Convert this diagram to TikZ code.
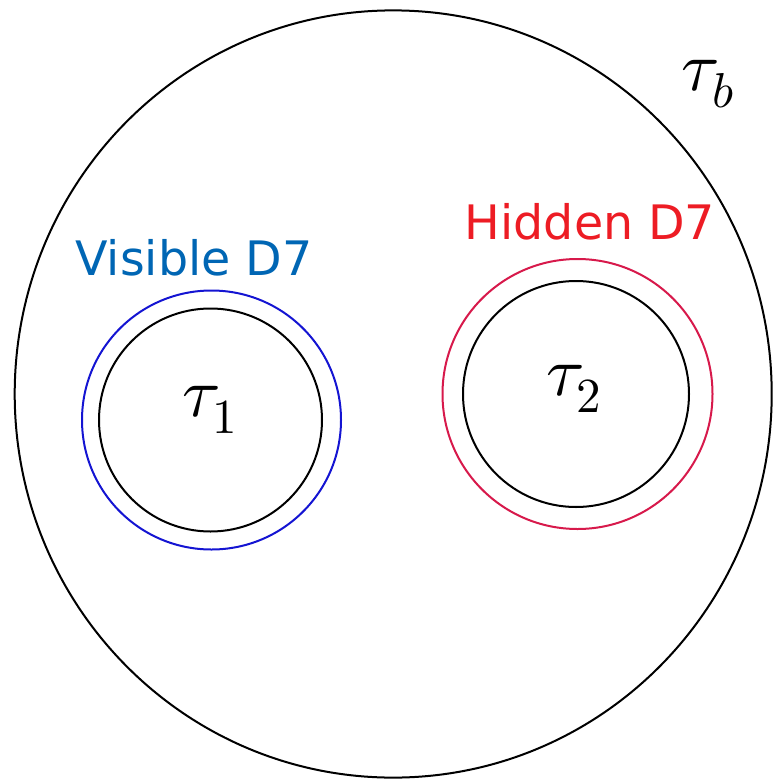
\documentclass[tikz,border=0pt]{standalone}
\usepackage{fontspec}
\usepackage{unicode-math}
\newfontfamily\labelfont{DejaVu Sans}
\definecolor{visblue}{RGB}{0,102,180}
\definecolor{visline}{RGB}{20,20,210}
\definecolor{hidred}{RGB}{237,28,36}
\definecolor{hidline}{RGB}{215,25,75}
\begin{document}
\begin{tikzpicture}[x=1pt,y=-1pt,
  ring/.style={line width=2pt},
  lbl/.style={font=\labelfont\fontsize{47.5}{57}\selectfont, inner sep=0pt},
  mth/.style={font=\fontsize{70}{80}\selectfont, inner sep=0pt}]
\useasboundingbox (0,0) rectangle (773,779);
\draw[ring] (393.2,394) ellipse [x radius=378.5, y radius=383.6];
\node[ring, draw=visline, circle, minimum size=259pt, inner sep=0pt] (vis) at (211.5,420) {};
\node[ring, draw=black, circle, minimum size=223pt, inner sep=0pt] (t1c) at (210.5,420) {};
\node[ring, draw=hidline, circle, minimum size=270pt, inner sep=0pt] (hid) at (577.5,394) {};
\node[ring, draw=black, circle, minimum size=226pt, inner sep=0pt] (t2c) at (576,394) {};
\node[lbl, text=visblue] (vl) at (194,258) {Visible D7};
\node[lbl, text=hidred] (hl) at (590,222) {Hidden D7};
\node[mth] (tb) at (708,84) {$\tau_b$};
\node[mth] (t1) at (210,410) {$\tau_1$};
\node[mth] (t2) at (574,389) {$\tau_2$};
\end{tikzpicture}
\end{document}
